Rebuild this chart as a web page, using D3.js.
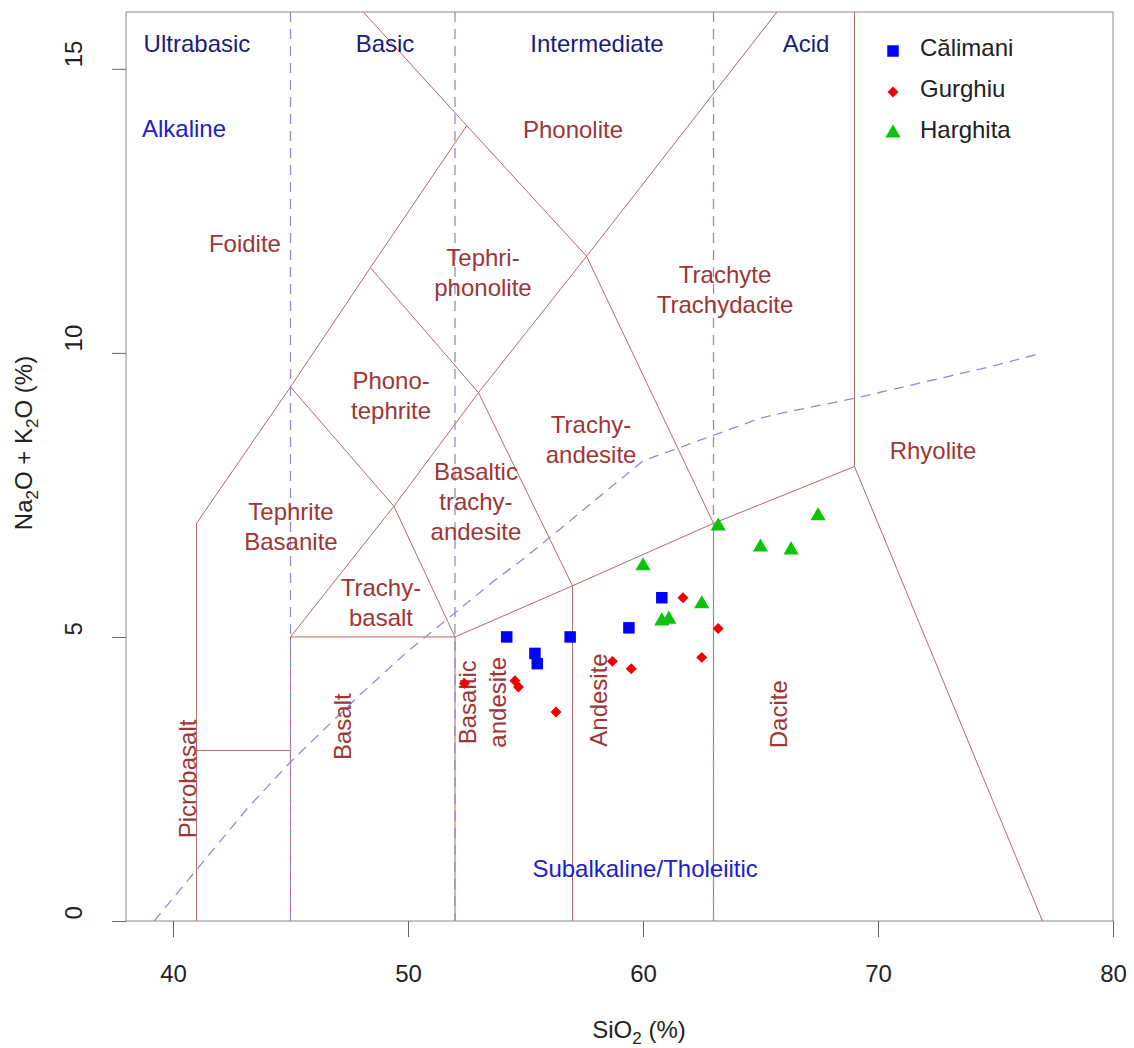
<!DOCTYPE html>
<meta charset="utf-8">
<style>

body {
  margin: 0;
  background: #fff;
}

text {
  font-family: "Liberation Sans", Arial, sans-serif;
  font-size: 24px;
}

.frame {
  fill: none;
  stroke: #8a8a8a;
  stroke-width: 1px;
}

.field path {
  fill: none;
  stroke: #b26a6a;
  stroke-width: 1px;
}

.divide {
  fill: none;
  stroke: #8f8fca;
  stroke-width: 1.3px;
  stroke-dasharray: 10, 7;
}

.axis path { display: none; }
.axis line { stroke: #666; }
.axis text { fill: #222; }

</style>
<svg></svg>
<script src="https://d3js.org/d3.v7.min.js"></script>
<script>

// AXES
var xTicks = [40, 50, 60, 70, 80];
var yTicks = [0, 5, 10, 15];

// SAMPLES (SiO2 %, Na2O+K2O %)
var calimaniSiO2 = [54.2, 55.4, 55.5, 56.9, 59.4, 60.8];
var calimaniAlk  = [5.0, 4.71, 4.53, 5.0, 5.16, 5.69];

var gurghiuSiO2 = [52.4, 54.55, 54.7, 56.3, 58.7, 59.5, 61.7, 62.5, 63.2];
var gurghiuAlk  = [4.18, 4.23, 4.12, 3.68, 4.57, 4.44, 5.69, 4.64, 5.15];

var harghitaSiO2 = [60.0, 63.2, 65.0, 66.3, 67.45, 62.5, 60.8, 61.1];
var harghitaAlk  = [6.25, 6.95, 6.58, 6.53, 7.13, 5.58, 5.28, 5.31];

// TAS FIELD BOUNDARIES
var fieldLines = [
  [[41, 0], [41, 7], [45, 9.4], [48.4, 11.5], [52.5, 14]],
  [[41, 3], [45, 3]],
  [[45, 0], [45, 5], [49.4, 7.3], [53, 9.3], [57.6, 11.7], [65.7, 16]],
  [[45, 5], [52, 5], [57, 5.9], [63, 7], [69, 8], [77, 0]],
  [[52, 0], [52, 5]],
  [[57, 0], [57, 5.9]],
  [[63, 0], [63, 7]],
  [[45, 9.4], [49.4, 7.3], [52, 5]],
  [[48.4, 11.5], [53, 9.3], [57, 5.9]],
  [[48.1, 16], [52.5, 14], [57.6, 11.7], [63, 7]],
  [[69, 8], [69, 16]]
];

// ULTRABASIC / BASIC / INTERMEDIATE / ACID LIMITS
var silicaLimits = [45, 52, 63];

// ALKALINE - SUBALKALINE DIVIDE
var ibSiO2 = [39.2, 40, 43.2, 45, 48, 50, 53.7, 55, 60, 65, 66, 69, 75, 77];
var ibAlk  = [0, 0.4, 2, 2.8, 4, 4.75, 6, 6.4, 8.1, 8.85, 8.95, 9.2, 9.78, 10];

// FIELD NAMES
var fieldNames = [
  {t: ["Foidite"], x: 43.06, y: 11.92},
  {t: ["Phonolite"], x: 57.02, y: 13.93},
  {t: ["Tephri-", "phonolite"], x: 53.19, y: 11.42},
  {t: ["Trachyte", "Trachydacite"], x: 63.49, y: 11.12},
  {t: ["Phono-", "tephrite"], x: 49.28, y: 9.24},
  {t: ["Trachy-", "andesite"], x: 57.79, y: 8.47},
  {t: ["Rhyolite"], x: 72.34, y: 8.28},
  {t: ["Tephrite", "Basanite"], x: 45.02, y: 6.94},
  {t: ["Basaltic", "trachy-", "andesite"], x: 52.89, y: 7.39},
  {t: ["Trachy-", "basalt"], x: 48.85, y: 5.60},
  {t: ["Picrobasalt"], x: 40.60, y: 2.50, rot: true},
  {t: ["Basalt"], x: 47.21, y: 3.42, rot: true},
  {t: ["Basaltic", "andesite"], x: 53.19, y: 3.85, rot: true},
  {t: ["Andesite"], x: 58.13, y: 3.89, rot: true},
  {t: ["Dacite"], x: 65.79, y: 3.64, rot: true}
];

var classNames = [
  {t: "Ultrabasic", x: 41.02, y: 15.45},
  {t: "Basic", x: 49.02, y: 15.45},
  {t: "Intermediate", x: 58.04, y: 15.45},
  {t: "Acid", x: 66.94, y: 15.45}
];

var seriesNames = [
  {t: "Alkaline", x: 40.47, y: 13.95},
  {t: "Subalkaline/Tholeiitic", x: 60.09, y: 0.92}
];

var svg = d3.select("svg")
    .attr("width", 1134)
    .attr("height", 1048);

var margin = {top: 12, right: 21, bottom: 127, left: 126};
var width = 1134 - margin.left - margin.right,
    height = 1048 - margin.top - margin.bottom;

var x = d3.scaleLinear().domain([38, 80]).range([margin.left, margin.left + width]);
var y = d3.scaleLinear().domain([0, 16]).range([margin.top + height, margin.top]);

svg.append("defs").append("clipPath")
    .attr("id", "plotclip")
  .append("rect")
    .attr("x", x(38)).attr("y", y(16))
    .attr("width", width).attr("height", height);

var line = d3.line()
    .x(function(d) { return x(d[0]); })
    .y(function(d) { return y(d[1]); });

var plot = svg.append("g").attr("clip-path", "url(#plotclip)");

// fields
plot.append("g")
    .attr("class", "field")
  .selectAll("path")
  .data(fieldLines)
  .enter().append("path")
    .attr("d", line);

// dashed dividers
plot.selectAll("line.divide")
  .data(silicaLimits)
  .enter().append("line")
    .attr("class", "divide")
    .attr("x1", function(d) { return x(d); })
    .attr("x2", function(d) { return x(d); })
    .attr("y1", y(16))
    .attr("y2", y(0));

plot.append("path")
    .attr("class", "divide")
    .attr("d", line(ibSiO2.map(function(s, i) { return [s, ibAlk[i]]; })));

// field names
var labels = svg.append("g").selectAll("g")
  .data(fieldNames)
  .enter().append("g")
    .attr("transform", function(d) {
      return "translate(" + x(d.x) + "," + y(d.y) + ")" + (d.rot ? " rotate(-90)" : "");
    });

labels.append("text")
    .attr("text-anchor", "middle")
    .attr("fill", "#a03535")
  .selectAll("tspan")
  .data(function(d) { return d.t; })
  .enter().append("tspan")
    .attr("x", 0)
    .attr("y", function(d, i, nodes) { return (i - (nodes.length - 1) / 2) * 30; })
    .attr("dy", "0.35em")
    .text(function(d) { return d; });

svg.append("g").selectAll("text")
  .data(classNames)
  .enter().append("text")
    .attr("x", function(d) { return x(d.x); })
    .attr("y", function(d) { return y(d.y); })
    .attr("dy", "0.35em")
    .attr("text-anchor", "middle")
    .attr("fill", "#1c1c78")
    .text(function(d) { return d.t; });

svg.append("g").selectAll("text")
  .data(seriesNames)
  .enter().append("text")
    .attr("x", function(d) { return x(d.x); })
    .attr("y", function(d) { return y(d.y); })
    .attr("dy", "0.35em")
    .attr("text-anchor", "middle")
    .attr("fill", "#2020c8")
    .text(function(d) { return d.t; });

// samples
var series = [
  {name: "Călimani", sio2: calimaniSiO2, alk: calimaniAlk, color: "#0000ff",
   shape: d3.symbol(d3.symbolSquare, 132), rot: 0},
  {name: "Gurghiu", sio2: gurghiuSiO2, alk: gurghiuAlk, color: "#f00000",
   shape: d3.symbol(d3.symbolSquare, 60), rot: 45},
  {name: "Harghita", sio2: harghitaSiO2, alk: harghitaAlk, color: "#0cc40c",
   shape: d3.symbol(d3.symbolTriangle, 100), rot: 0}
];

series.forEach(function(s) {
  svg.append("g").selectAll("path")
    .data(s.sio2.map(function(v, i) { return [v, s.alk[i]]; }))
    .enter().append("path")
      .attr("d", s.shape)
      .attr("fill", s.color)
      .attr("transform", function(d) {
        return "translate(" + x(d[0]) + "," + y(d[1]) + ") rotate(" + s.rot + ")";
      });
});

// legend
var legend = svg.append("g")
    .attr("transform", "translate(893,51)");

var item = legend.selectAll("g")
  .data(series)
  .enter().append("g")
    .attr("transform", function(d, i) { return "translate(0," + (i * 41) + ")"; });

item.append("path")
    .attr("d", function(d) { return d.shape(); })
    .attr("fill", function(d) { return d.color; })
    .attr("transform", function(d) { return "rotate(" + d.rot + ")"; });

item.append("text")
    .attr("x", 27)
    .attr("y", 5)
    .attr("fill", "#222")
    .text(function(d) { return d.name; });

// frame + axes
svg.append("rect")
    .attr("class", "frame")
    .attr("x", x(38)).attr("y", y(16))
    .attr("width", width).attr("height", height);

svg.append("g")
    .attr("class", "axis")
    .attr("transform", "translate(0," + y(0) + ")")
    .call(d3.axisBottom(x).tickValues(xTicks).tickSize(16).tickPadding(28));

svg.append("g")
    .attr("class", "axis")
    .attr("transform", "translate(" + x(38) + ",0)")
    .call(d3.axisLeft(y).tickValues(yTicks).tickSize(14))
  .selectAll("text")
    .attr("transform", "rotate(-90)")
    .attr("x", 2)
    .attr("y", -44)
    .attr("dy", 0)
    .style("text-anchor", "start");

svg.selectAll(".axis text").style("font-size", "24px");

// axis titles
var xt = svg.append("text")
    .attr("x", 639)
    .attr("y", 1038)
    .attr("text-anchor", "middle")
    .attr("fill", "#222");
xt.append("tspan").text("SiO");
xt.append("tspan").attr("font-size", "17px").attr("dy", 6).text("2");
xt.append("tspan").attr("dy", -6).text(" (%)");

var yt = svg.append("text")
    .attr("transform", "translate(32,443) rotate(-90)")
    .attr("text-anchor", "middle")
    .attr("fill", "#222");
yt.append("tspan").text("Na");
yt.append("tspan").attr("font-size", "17px").attr("dy", 6).text("2");
yt.append("tspan").attr("dy", -6).text("O + K");
yt.append("tspan").attr("font-size", "17px").attr("dy", 6).text("2");
yt.append("tspan").attr("dy", -6).text("O (%)");

</script>
